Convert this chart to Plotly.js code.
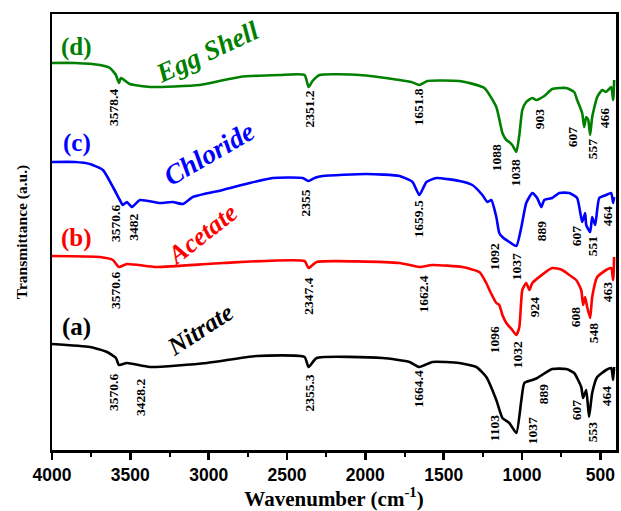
<!DOCTYPE html>
<html>
<head>
<meta charset="utf-8">
<script src="https://cdn.plot.ly/plotly-3.0.1.min.js"></script>
<style>html,body{margin:0;padding:0;background:#fff;}#chart{width:621px;height:511px;}</style>
</head>
<body>
<div id="chart"></div>
<script>
// ---- Data (wavenumber cm^-1, transmittance a.u. with offsets) ----
const wnA = [4000,3758,3649,3592,3573,3522,3375,3012,2694,2388,2362,2311,1890,1718,1655,1572,1400,1291,1228,1164,1125,1081,1036,1004,985,934,903,807,718,667,622,610,590,572,552,520,463,431,418,412];
const tA  = [106,103,98,92,85,87,83,87,94,93,83,92,92,88,83,88,87,83,73,50,32,27,17,50,67,70,72,81,81,77,63,52,60,33,57,73,80,82,70,83];

const wnB = [4000,3694,3611,3573,3522,3331,2910,2388,2362,2311,1782,1655,1572,1381,1272,1228,1208,1164,1145,1125,1100,1062,1036,1017,998,973,953,934,807,743,698,654,622,610,597,584,565,552,520,463,431,418,412];
const tB  = [194,193,190,183,186,183,187,189,182,188,187,183,185,183,178,167,160,147,145,135,127,120,115,123,160,167,160,167,182,180,175,170,160,145,153,143,132,153,173,180,182,170,193];

const wnC = [4000,3853,3758,3675,3611,3567,3548,3522,3490,3439,3312,3229,3165,3101,2910,2738,2592,2400,2362,2324,2273,1992,1782,1699,1655,1610,1546,1399,1317,1253,1221,1196,1164,1145,1125,1081,1036,1004,973,934,903,877,858,807,762,698,648,616,597,590,565,552,533,507,463,431,418,412];
const tC  = [288,288,286,280,263,250,245,248,243,250,247,248,246,253,260,267,272,272,269,272,274,276,274,268,255,268,272,269,265,255,248,250,233,217,213,208,204,223,247,257,252,243,250,252,257,257,252,228,237,225,218,233,225,252,255,257,247,253];

const wnD = [4000,3853,3694,3630,3592,3573,3560,3503,3375,3057,2802,2547,2388,2362,2337,2292,2037,1782,1706,1655,1604,1400,1336,1240,1164,1125,1100,1081,1062,1036,1017,998,973,934,909,858,807,718,667,648,616,603,590,577,565,552,520,488,463,431,418,412];
const tD  = [387,387,385,382,375,367,372,366,363,365,373,375,375,363,369,375,375,370,368,365,369,369,367,362,343,317,310,308,305,298,315,340,348,352,350,354,361,362,358,350,337,323,333,330,315,333,353,360,358,363,350,370];

const seriesNames = ['Nitrate','Acetate','Chloride','Egg Shell'];
const seriesTags  = ['(a)','(b)','(c)','(d)'];
const seriesColors = ['#000000','#ff0000','#0000ff','#008000'];

// Peak labels (text) for each series
const peaksA = ['3570.6','3428.2','2355.3','1664.4','1103','1037','889','607','553','464'];
const peaksB = ['3570.6','2347.4','1662.4','1096','1032','924','608','548','463'];
const peaksC = ['3570.6','3482','2355','1659.5','1092','1037','889','607','551','464'];
const peaksD = ['3578.4','2351.2','1651.8','1088','1038','903','607','557','466'];

const xTickVals = [4000,3500,3000,2500,2000,1500,1000,500];

// ---- Label placement (layout only) ----
const peakPosA = [[3611,58],[3439,53],[2362,57],[1661,61],[1177,22],[934,19],[864,56],[654,40],[552,18],[463,54]];
const peakPosB = [[3598,160],[2368,154],[1635,156],[1177,110],[1030,95],[922,143],[660,133],[546,117],[456,158]];
const peakPosC = [[3598,227],[3484,223],[2388,247],[1661,231],[1177,193],[1036,183],[877,219],[654,214],[552,204],[456,234]];
const peakPosD = [[3611,343],[2362,341],[1667,343],[1164,292],[1043,277],[890,331],[679,313],[552,301],[475,332]];
const tagPos  = [[3841,123],[3841,212],[3841,307],[3841,403]];
const namePos = [[3057,121,-33,25],[3044,216,-38,26],[3000,297,-30,27.5],[3010,398,-25,27]];

const serif = 'Liberation Serif, Times New Roman, serif';
const xs = [wnA,wnB,wnC,wnD], ys = [tA,tB,tC,tD];
const traces = xs.map((x,i)=>({
  x: x, y: ys[i], type:'scatter', mode:'lines', name: seriesNames[i],
  line:{color: seriesColors[i], width:2.6, shape:'spline', smoothing:0.5}, showlegend:false, hoverinfo:'skip'
}));

const annotations = [];
const peaks = [peaksA,peaksB,peaksC,peaksD], pos = [peakPosA,peakPosB,peakPosC,peakPosD];
peaks.forEach((arr,i)=>arr.forEach((t,j)=>{
  annotations.push({x:pos[i][j][0], y:pos[i][j][1], xref:'x', yref:'y', text:t, showarrow:false,
    textangle:-90, font:{family:serif, size:13.5, color:'#000', weight:'bold'}});
}));
seriesTags.forEach((t,i)=>{
  annotations.push({x:tagPos[i][0], y:tagPos[i][1], xref:'x', yref:'y', text:t, showarrow:false,
    font:{family:serif, size:25, color:seriesColors[i], weight:'bold'}});
  annotations.push({x:namePos[i][0], y:namePos[i][1], xref:'x', yref:'y', text:seriesNames[i], showarrow:false,
    textangle:namePos[i][2], font:{family:serif, size:namePos[i][3], color:seriesColors[i], weight:'bold', style:'italic'}});
});

const layout = {
  width:621, height:511,
  margin:{l:52, r:5, t:14, b:61},
  paper_bgcolor:'#fff', plot_bgcolor:'#fff',
  xaxis:{
    range:[4000,400], autorange:false,
    tickvals:xTickVals, ticks:'outside', ticklen:7, tickwidth:2.5, tickcolor:'#000',
    minor:{dtick:250, tick0:0, ticks:'outside', ticklen:4, tickwidth:2, tickcolor:'#000'},
    showline:true, linecolor:'#000', linewidth:2.5, mirror:true,
    showgrid:false, zeroline:false,
    tickfont:{family:'Liberation Sans, Arial, sans-serif', size:17.5, color:'#000', weight:'bold'},
    title:{text:'Wavenumber (cm<sup>-1</sup>)', font:{family:serif, size:21, color:'#000', weight:'bold'}, standoff:0}
  },
  yaxis:{
    range:[0,436], autorange:false,
    showticklabels:false, ticks:'',
    showline:true, linecolor:'#000', linewidth:2.5, mirror:true,
    showgrid:false, zeroline:false,
    title:{text:'Transmittance (a.u.)', font:{family:serif, size:15.5, color:'#000', weight:'bold'}, standoff:18}
  },
  annotations: annotations
};

Plotly.newPlot('chart', traces, layout, {displayModeBar:false, staticPlot:true});
</script>
</body>
</html>
